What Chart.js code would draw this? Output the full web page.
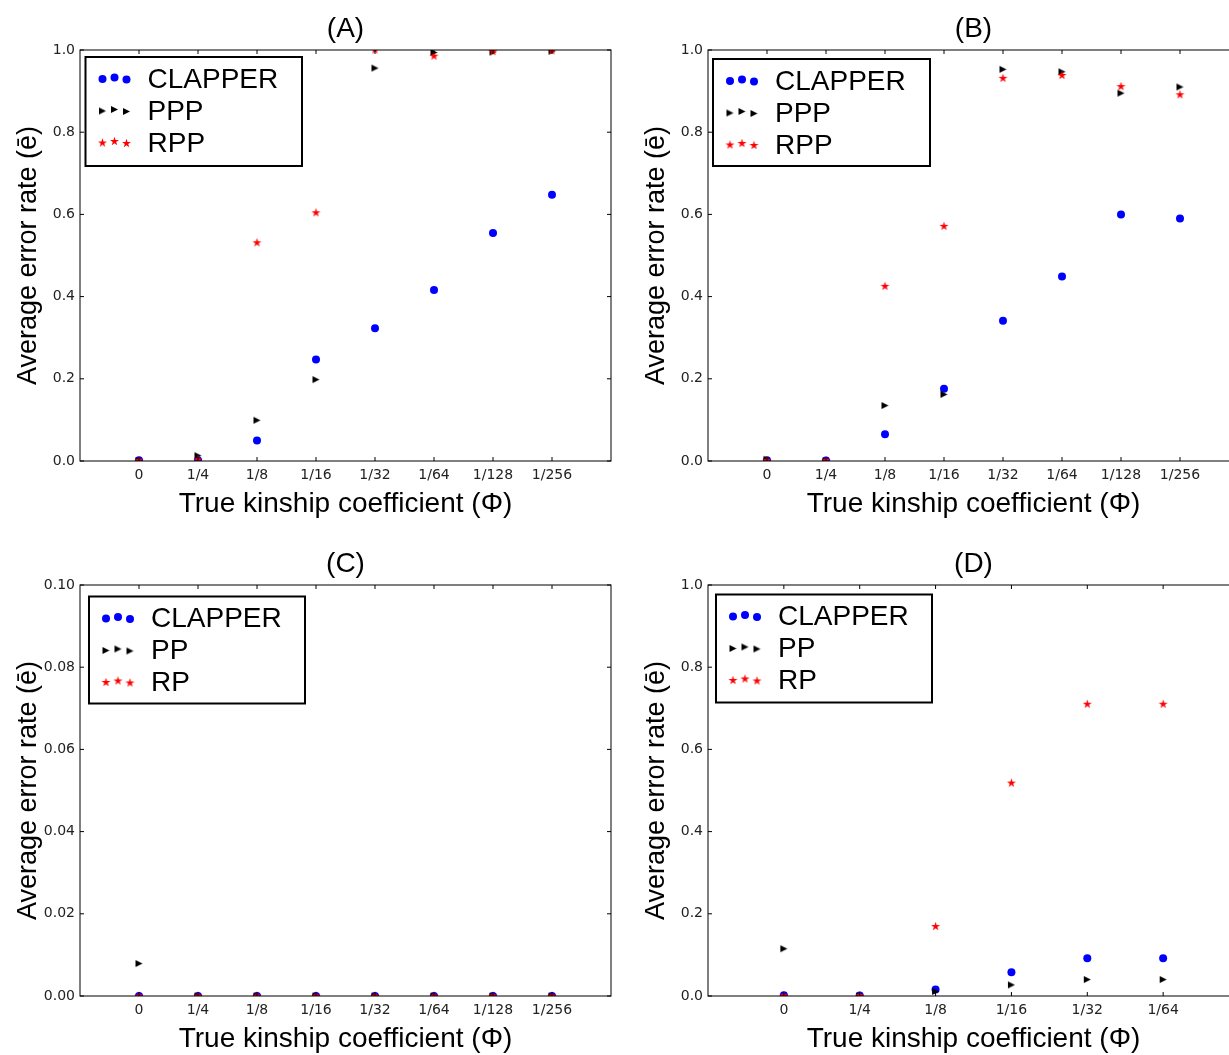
<!DOCTYPE html>
<html>
<head>
<meta charset="utf-8">
<script src="https://cdn.jsdelivr.net/npm/chart.js@4.4.1/dist/chart.umd.min.js"></script>
<style>
  body { margin: 0; width: 1229px; height: 1055px; overflow: hidden; background: #fff; position: relative; }
  .panel { position: absolute; width: 620px; height: 525px; }
</style>
</head>
<body>
<div class="panel" style="left:0;top:0"><canvas id="chartA"></canvas></div>
<div class="panel" style="left:628px;top:0"><canvas id="chartB"></canvas></div>
<div class="panel" style="left:0;top:535px"><canvas id="chartC"></canvas></div>
<div class="panel" style="left:628px;top:535px"><canvas id="chartD"></canvas></div>
<script>
// x categories (true kinship coefficient)
const kinshipTicks = ["0", "1/4", "1/8", "1/16", "1/32", "1/64", "1/128", "1/256"];

const namesAB = ["CLAPPER", "PPP", "RPP"];
const namesCD = ["CLAPPER", "PP", "RP"];

// (A)
const clapperA = [0.002, 0.002, 0.050, 0.247, 0.323, 0.416, 0.555, 0.648];
const pppA = [0.001, 0.013, 0.099, 0.198, 0.956, 0.994, 0.995, 0.997];
const rppA = [0.001, 0.003, 0.531, 0.604, 1.000, 0.985, 0.996, 0.998];

// (B)
const clapperB = [0.002, 0.001, 0.065, 0.176, 0.341, 0.449, 0.600, 0.590];
const pppB = [0.004, 0.000, 0.135, 0.162, 0.953, 0.947, 0.895, 0.910];
const rppB = [0.001, 0.001, 0.425, 0.571, 0.931, 0.938, 0.911, 0.891];

// (C)
const clapperC = [0, 0, 0, 0, 0, 0, 0, 0];
const ppC = [0.0079, 0, 0, 0, 0, 0, 0, 0];
const rpC = [0, 0, 0, 0, 0, 0, 0, 0];

// (D) - only six categories
const clapperD = [0.002, 0.001, 0.016, 0.058, 0.092, 0.092];
const ppD = [0.115, 0.000, 0.011, 0.027, 0.040, 0.040];
const rpD = [0.001, 0.001, 0.169, 0.518, 0.710, 0.710];

Chart.defaults.font.family = "DejaVu Sans";
Chart.defaults.color = "#222";

// marker images: right-pointing triangle and five-point star
function triangleMarker(color) {
  const c = document.createElement("canvas");
  c.width = 9; c.height = 9;
  const g = c.getContext("2d");
  g.fillStyle = color;
  g.beginPath();
  g.moveTo(8, 4.5); g.lineTo(1, 1); g.lineTo(1, 8);
  g.closePath(); g.fill();
  return c;
}
function starMarker(color) {
  const c = document.createElement("canvas");
  c.width = 11; c.height = 11;
  const g = c.getContext("2d");
  g.fillStyle = color;
  g.beginPath();
  for (let k = 0; k < 10; k++) {
    const r = k % 2 ? 1.8 : 4.7;
    const a = -Math.PI / 2 + k * Math.PI / 5;
    const px = 5.5 + r * Math.cos(a), py = 5.5 + r * Math.sin(a);
    if (k === 0) g.moveTo(px, py); else g.lineTo(px, py);
  }
  g.closePath(); g.fill();
  return c;
}
const triImg = triangleMarker("#000");
const starImg = starMarker("#ff0000");

function drawMarker(ctx, ds, x, y) {
  if (typeof ds.pointStyle === "object") {
    ctx.drawImage(ds.pointStyle, x - ds.pointStyle.width / 2, y - ds.pointStyle.height / 2);
  } else {
    ctx.fillStyle = ds.backgroundColor;
    ctx.beginPath();
    ctx.arc(x, y, ds.pointRadius, 0, Math.PI * 2);
    ctx.fill();
  }
}

// full box around the axes with inward ticks on all four sides
const axesFrame = {
  id: "axesFrame",
  afterDatasetsDraw(chart) {
    const { ctx, chartArea: a, scales } = chart;
    ctx.save();
    ctx.strokeStyle = "#000";
    ctx.lineWidth = 1;
    ctx.beginPath();
    scales.x.ticks.forEach(t => {
      const px = scales.x.getPixelForValue(t.value);
      ctx.moveTo(px, a.bottom); ctx.lineTo(px, a.bottom - 4);
      ctx.moveTo(px, a.top); ctx.lineTo(px, a.top + 4);
    });
    scales.y.ticks.forEach(t => {
      const py = scales.y.getPixelForValue(t.value);
      ctx.moveTo(a.left, py); ctx.lineTo(a.left + 4, py);
      ctx.moveTo(a.right, py); ctx.lineTo(a.right - 4, py);
    });
    ctx.stroke();
    ctx.strokeRect(a.left, a.top, a.right - a.left, a.bottom - a.top);
    ctx.restore();
  }
};

// matplotlib-like legend: framed box, three scattered markers per entry
const boxLegend = {
  id: "boxLegend",
  afterDraw(chart, args, opts) {
    const { ctx, chartArea } = chart;
    const x0 = chartArea.left + opts.dx, y0 = chartArea.top + opts.dy;
    ctx.save();
    ctx.fillStyle = "#fff";
    ctx.fillRect(x0, y0, opts.w, opts.h);
    ctx.lineWidth = 2;
    ctx.strokeStyle = "#000";
    ctx.strokeRect(x0, y0, opts.w, opts.h);
    const jitter = [0.5, -1, 1];
    chart.data.datasets.forEach((ds, i) => {
      const cy = y0 + 23 + i * 32;
      [17, 29, 41].forEach((mx, k) => drawMarker(ctx, ds, x0 + mx, cy - 1.5 + jitter[k]));
      ctx.fillStyle = "#000";
      ctx.font = '28px "Liberation Sans"';
      ctx.textBaseline = "middle";
      ctx.fillText(ds.label, x0 + 62, cy);
    });
    ctx.restore();
  }
};

function points(values) {
  return values.map((v, i) => ({ x: i, y: v }));
}

function makeChart(id, title, names, series, nCats, yMax, yStep, yDigits, legendBox) {
  const styles = [
    { backgroundColor: "#0000ff", pointStyle: "circle", pointRadius: 4 },
    { backgroundColor: "#000", pointStyle: triImg, pointRadius: 4 },
    { backgroundColor: "#ff0000", pointStyle: starImg, pointRadius: 4 }
  ];
  new Chart(document.getElementById(id), {
    type: "scatter",
    data: {
      datasets: series.map((vals, i) => ({
        label: names[i],
        data: points(vals),
        backgroundColor: styles[i].backgroundColor,
        borderWidth: 0,
        pointStyle: styles[i].pointStyle,
        pointRadius: styles[i].pointRadius,
        pointHoverRadius: styles[i].pointRadius,
        order: 2 - i,
        clip: 0
      }))
    },
    options: {
      responsive: true,
      maintainAspectRatio: false,
      animation: false,
      layout: { padding: { right: 9 } },
      plugins: {
        legend: { display: false },
        tooltip: { enabled: false },
        title: {
          display: true,
          text: title,
          fullSize: false,
          color: "#000",
          font: { family: "Liberation Sans", size: 28, weight: "normal" },
          padding: { top: 12, bottom: 4.4 }
        },
        boxLegend: legendBox
      },
      scales: {
        x: {
          type: "linear",
          min: -1,
          max: nCats,
          afterBuildTicks: s => { s.ticks = kinshipTicks.slice(0, nCats).map((_, i) => ({ value: i })); },
          afterFit: s => { s.height = 64; },
          ticks: {
            autoSkip: false,
            maxRotation: 0,
            padding: 6,
            font: { size: 14 },
            callback: v => kinshipTicks[v]
          },
          grid: { display: false, drawTicks: false, tickLength: 0 },
          border: { display: false },
          title: {
            display: true,
            text: "True kinship coefficient (Φ)",
            color: "#000",
            font: { family: "Liberation Sans", size: 28 },
            padding: { top: 0, bottom: 4 }
          }
        },
        y: {
          min: 0,
          max: yMax,
          afterFit: s => { s.width = 80; },
          ticks: {
            stepSize: yStep,
            padding: 5,
            font: { size: 14 },
            callback: v => v.toFixed(yDigits)
          },
          grid: { display: false, drawTicks: false, tickLength: 0 },
          border: { display: false },
          title: {
            display: true,
            text: "Average error rate (ē)",
            color: "#000",
            font: { family: "Liberation Sans", size: 27 },
            padding: { top: 12.5, bottom: 0 }
          }
        }
      }
    },
    plugins: [axesFrame, boxLegend]
  });
}

makeChart("chartA", "(A)", namesAB, [clapperA, pppA, rppA], 8, 1.0, 0.2, 1,
  { dx: 5.5, dy: 7, w: 216.5, h: 109 });
makeChart("chartB", "(B)", namesAB, [clapperB, pppB, rppB], 8, 1.0, 0.2, 1,
  { dx: 5, dy: 9, w: 217, h: 107 });
makeChart("chartC", "(C)", namesCD, [clapperC, ppC, rpC], 8, 0.10, 0.02, 2,
  { dx: 9, dy: 11.5, w: 216, h: 107 });
makeChart("chartD", "(D)", namesCD, [clapperD, ppD, rpD], 6, 1.0, 0.2, 1,
  { dx: 8, dy: 9.5, w: 216, h: 108 });
</script>
</body>
</html>
